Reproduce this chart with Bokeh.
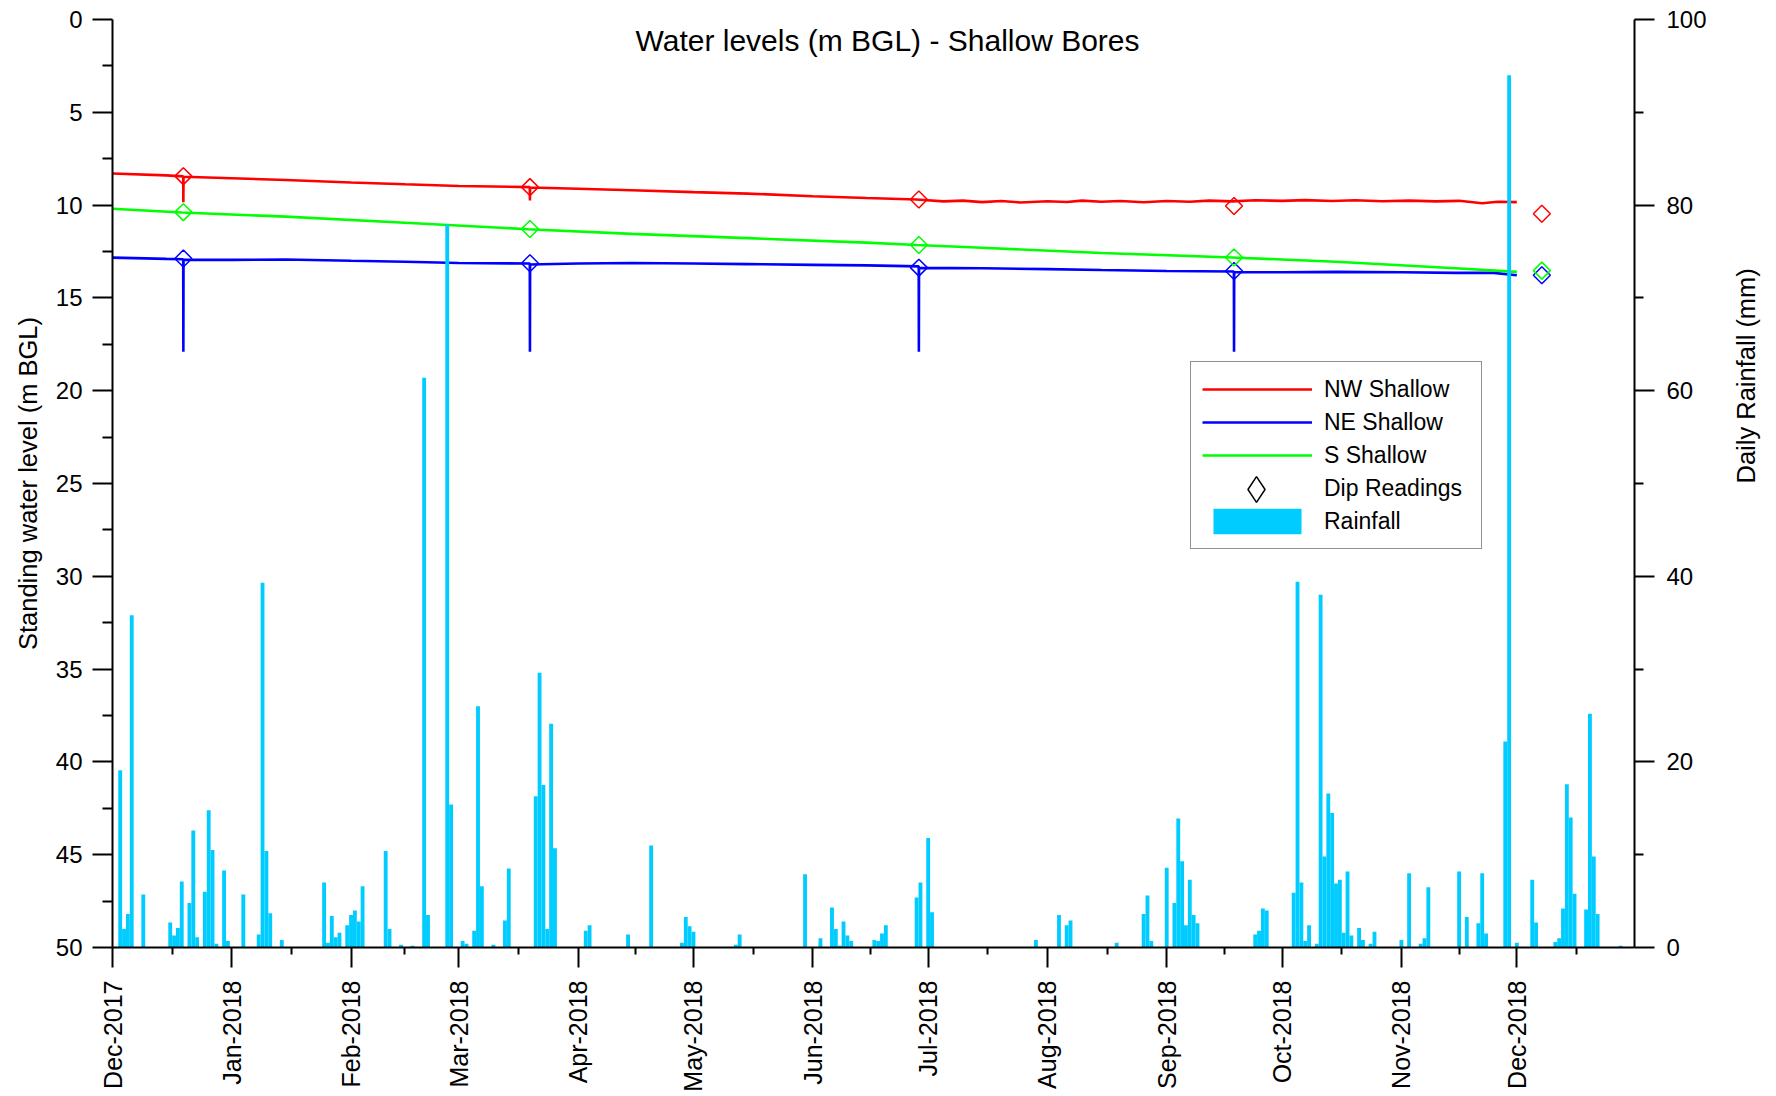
import math
import numpy as np
import pandas as pd
from bokeh.plotting import figure
from bokeh.models import (Range1d, LinearAxis, FixedTicker, DatetimeTickFormatter,
                          Legend, LegendItem, Label)
from bokeh.embed import file_html
from bokeh.resources import INLINE

FONT = "Liberation Sans"

# ---------------- data ----------------
start_date = "2017-12-01"
end_date = "2018-12-31 14:00"

month_ticks = ["2017-12-01", "2018-01-01", "2018-02-01", "2018-03-01", "2018-04-01",
               "2018-05-01", "2018-06-01", "2018-07-01", "2018-08-01", "2018-09-01",
               "2018-10-01", "2018-11-01", "2018-12-01"]
next_month = "2019-01-01"
level_ticks = [0, 5, 10, 15, 20, 25, 30, 35, 40, 45, 50]
rain_ticks = [0, 20, 40, 60, 80, 100]

nw_dates = ["2017-12-01", "2017-12-15", "2017-12-19 09:00", "2017-12-19 10:00", "2017-12-19 11:00",
            "2018-01-01", "2018-01-15", "2018-02-01", "2018-02-15", "2018-03-01",
            "2018-03-19 11:00", "2018-03-19 12:00", "2018-03-19 13:00",
            "2018-04-01", "2018-04-15", "2018-05-01", "2018-05-15", "2018-06-01", "2018-06-15",
            "2018-06-28", "2018-07-05", "2018-07-10", "2018-07-15", "2018-07-20", "2018-07-25",
            "2018-08-01", "2018-08-06", "2018-08-10", "2018-08-15", "2018-08-20", "2018-08-26",
            "2018-09-01", "2018-09-07", "2018-09-12", "2018-09-18", "2018-09-24", "2018-10-01",
            "2018-10-07", "2018-10-14", "2018-10-20", "2018-10-27", "2018-11-03", "2018-11-10",
            "2018-11-16", "2018-11-22", "2018-11-26", "2018-12-01"]
nw_level = [8.30, 8.40, 8.45, 9.85, 8.47,
            8.55, 8.65, 8.78, 8.88, 8.97,
            9.03, 9.75, 9.05,
            9.12, 9.20, 9.30, 9.38, 9.52, 9.62,
            9.70, 9.80, 9.76, 9.84, 9.78, 9.86,
            9.79, 9.83, 9.76, 9.82, 9.78, 9.85,
            9.78, 9.82, 9.76, 9.80, 9.74, 9.77,
            9.73, 9.78, 9.74, 9.79, 9.76, 9.80,
            9.77, 9.90, 9.82, 9.84]

ne_dates = ["2017-12-01", "2017-12-15", "2017-12-19 09:00", "2017-12-19 10:00", "2017-12-19 11:00",
            "2018-01-01", "2018-01-15", "2018-02-01", "2018-02-15", "2018-03-01",
            "2018-03-19 11:00", "2018-03-19 12:00", "2018-03-19 13:00",
            "2018-04-01", "2018-04-15", "2018-05-01", "2018-05-15", "2018-06-01", "2018-06-15",
            "2018-06-28 13:00", "2018-06-28 14:00", "2018-06-28 15:00",
            "2018-07-15", "2018-08-01", "2018-08-15", "2018-09-01",
            "2018-09-18 11:00", "2018-09-18 12:00", "2018-09-18 13:00",
            "2018-10-01", "2018-10-15", "2018-11-01", "2018-11-15", "2018-11-25", "2018-12-01"]
ne_level = [12.83, 12.90, 12.92, 17.90, 12.95,
            12.95, 12.93, 13.00, 13.05, 13.12,
            13.15, 17.90, 13.20,
            13.15, 13.12, 13.15, 13.18, 13.22, 13.25,
            13.30, 17.90, 13.38,
            13.40, 13.45, 13.50, 13.55,
            13.58, 17.90, 13.62,
            13.62, 13.60, 13.62, 13.65, 13.65, 13.78]

s_dates = ["2017-12-01", "2017-12-19", "2018-01-15", "2018-02-15", "2018-03-19", "2018-04-15",
           "2018-05-15", "2018-06-15", "2018-06-28", "2018-07-15", "2018-08-15", "2018-09-18",
           "2018-10-15", "2018-11-15", "2018-12-01"]
s_level = [10.20, 10.40, 10.62, 10.95, 11.30, 11.55,
           11.78, 12.02, 12.15, 12.30, 12.58, 12.82,
           13.05, 13.40, 13.60]

dip_dates = ["2017-12-19 10:00", "2018-03-19 12:00", "2018-06-28 14:00",
             "2018-09-18 12:00", "2018-12-07 12:00"]
dip_nw = [8.44, 9.03, 9.70, 10.05, 10.47]
dip_ne = [12.88, 13.13, 13.37, 13.55, 13.78]
dip_s = [10.38, 11.29, 12.15, 12.82, 13.53]

# rainfall: day offset from start_date, daily rainfall (mm)
rain_day = [2, 3, 4, 5, 8, 15, 16, 17, 18, 20, 21, 22, 24, 25, 26, 27, 29, 30, 34, 38,
            39, 40, 41, 44, 55, 56, 57, 58, 59, 61, 62, 63, 64, 65, 71, 72, 75, 78, 81, 82,
            87, 88, 91, 92, 94, 95, 96, 99, 102, 103, 110, 111, 112, 113, 114, 115, 123, 124,
            134, 140, 148, 149, 150, 151, 162, 163, 180, 184, 187, 188, 189, 190, 191, 192,
            198, 199, 200, 201, 209, 210, 212, 213, 240, 246, 248, 249, 261, 268, 269, 270,
            274, 276, 277, 278, 279, 280, 281, 282, 297, 298, 299, 300, 307, 308, 309, 310,
            311, 313, 314, 315, 316, 317, 318, 319, 320, 321, 322, 324, 325, 327, 328, 335,
            337, 340, 341, 342, 350, 352, 355, 356, 357, 362, 363, 365, 369, 370, 375, 376,
            377, 378, 379, 380, 383, 384, 385, 386, 392]
rain_mm = [19.1, 2.0, 3.6, 35.8, 5.7, 2.7, 1.3, 2.1, 7.1, 4.8, 12.6, 1.1, 6.0, 14.8, 10.5, 0.4, 8.3, 0.7, 5.7, 1.4,
           39.3, 10.4, 3.7, 0.8, 7.0, 0.5, 3.4, 1.1, 1.6, 2.4, 3.5, 4.0, 2.8, 6.6, 10.4, 2.0, 0.3, 0.2, 61.4, 3.5,
           77.9, 15.4, 0.7, 0.4, 1.8, 26.0, 6.6, 0.3, 2.9, 8.5, 16.3, 29.6, 17.5, 2.0, 24.1, 10.7, 1.8, 2.4,
           1.4, 11.0, 0.5, 3.3, 2.3, 1.7, 0.3, 1.4, 7.9, 1.0, 4.3, 2.0, 0.2, 2.8, 1.3, 0.7,
           0.8, 0.7, 1.5, 2.4, 5.4, 7.0, 11.8, 3.8, 0.8, 3.5, 2.4, 2.9, 0.5, 3.6, 5.6, 0.7,
           8.6, 4.8, 13.9, 9.3, 2.4, 7.3, 3.5, 2.6, 1.4, 1.8, 4.2, 4.0, 5.9, 39.4, 7.0, 0.7,
           2.4, 0.4, 38.0, 9.8, 16.6, 14.5, 6.9, 7.3, 1.6, 8.2, 1.3, 2.1, 0.8, 0.4, 1.7, 0.8,
           8.0, 0.4, 1.0, 6.5, 8.2, 3.3, 2.6, 8.0, 1.5, 22.2, 94.0, 0.5, 7.3, 2.7, 0.6, 1.0,
           4.2, 17.6, 14.0, 5.8, 4.1, 25.2, 9.8, 3.6, 0.2]

# ---------------- helpers ----------------
def ms(ts):
    return pd.Timestamp(ts).value // 10**6

def dt(strings):
    return pd.to_datetime(strings, format="mixed")

start = pd.Timestamp(start_date)
rain_x = start + pd.to_timedelta(rain_day, unit="D")
DAY_MS = 86400000

major_ms = [ms(t) for t in month_ticks]
bounds = major_ms + [ms(next_month)]
minor_ms = [(bounds[i] + bounds[i + 1]) / 2 for i in range(len(major_ms))]
minor_level = [(level_ticks[i] + level_ticks[i + 1]) / 2 for i in range(len(level_ticks) - 1)]
minor_rain = [(rain_ticks[i] + rain_ticks[i + 1]) / 2 for i in range(len(rain_ticks) - 1)]

# ---------------- figure ----------------
p = figure(width=1776, height=1096, x_axis_type="datetime", output_backend="svg",
           toolbar_location=None, title=None,
           x_range=Range1d(start=ms(start_date), end=ms(end_date)),
           y_range=Range1d(start=50, end=0),
           min_border_left=112, min_border_right=140, min_border_top=19, min_border_bottom=149)
p.extra_y_ranges = {"rain": Range1d(start=0, end=100)}
p.outline_line_color = None
p.xgrid.grid_line_color = None
p.ygrid.grid_line_color = None
p.background_fill_color = "white"
p.border_fill_color = "white"

def style_axis(ax, tick_font="24px"):
    ax.axis_line_color = "black"
    ax.axis_line_width = 2
    ax.major_tick_line_color = "black"
    ax.major_tick_line_width = 2
    ax.minor_tick_line_color = "black"
    ax.minor_tick_line_width = 2
    ax.major_tick_in = 0
    ax.minor_tick_in = 0
    ax.major_tick_out = 20
    ax.minor_tick_out = 10
    ax.major_label_text_font = FONT
    ax.major_label_text_font_size = tick_font
    ax.major_label_text_color = "black"
    ax.axis_label_text_font = FONT
    ax.axis_label_text_font_size = "25.5px"
    ax.axis_label_text_font_style = "normal"
    ax.axis_label_text_color = "black"

xa = p.xaxis[0]
style_axis(xa, "25px")
xa.ticker = FixedTicker(ticks=major_ms, minor_ticks=minor_ms)
xa.formatter = DatetimeTickFormatter(milliseconds="%b-%Y", seconds="%b-%Y", minsec="%b-%Y",
                                     minutes="%b-%Y", hourmin="%b-%Y", hours="%b-%Y",
                                     days="%b-%Y", months="%b-%Y", years="%b-%Y")
xa.major_label_orientation = math.pi / 2
xa.major_label_standoff = 13
xa.minor_tick_out = 7

ya = p.yaxis[0]
style_axis(ya)
ya.ticker = FixedTicker(ticks=level_ticks, minor_ticks=minor_level)
ya.axis_label = "Standing water level (m BGL)"
ya.major_label_standoff = 10
ya.axis_label_standoff = 11

ra = LinearAxis(y_range_name="rain", axis_label="Daily Rainfall (mm)")
style_axis(ra)
ra.ticker = FixedTicker(ticks=rain_ticks, minor_ticks=minor_rain)
ra.major_label_standoff = 12
ra.axis_label_standoff = 36
ra.minor_tick_out = 9
if "axis_label_orientation" in ra.properties():
    ra.axis_label_orientation = math.pi / 2
p.add_layout(ra, "right")

# ---------------- glyphs ----------------
r_nw = p.line(dt(nw_dates), nw_level, line_color="#FF0000", line_width=2.6)
r_ne = p.line(dt(ne_dates), ne_level, line_color="#0000FF", line_width=2.6)
r_s = p.line(dt(s_dates), s_level, line_color="#00FF00", line_width=2.6)

r_rain = p.vbar(x=rain_x, top=rain_mm, bottom=0, width=DAY_MS, y_range_name="rain",
                fill_color="#00CCFF", line_color=None)

dip_x = dt(dip_dates)
for vals, col in ((dip_nw, "#FF0000"), (dip_ne, "#0000FF"), (dip_s, "#00FF00")):
    p.scatter(dip_x, vals, marker="square", angle=math.pi / 4, size=12,
              fill_color=None, line_color=col, line_width=1.5)

# legend-only renderers (no visible data)
r_dip_blank = p.scatter([np.nan], [np.nan], marker="diamond", size=1,
                        fill_color=None, line_color="black", line_alpha=0.0)
r_dip_key = p.scatter([np.nan], [np.nan], marker="diamond", size=12,
                      fill_color=None, line_color="black", line_width=1.5)

# ---------------- legend ----------------
legend = Legend(items=[
    LegendItem(label="NW Shallow", renderers=[r_nw]),
    LegendItem(label="NE Shallow", renderers=[r_ne]),
    LegendItem(label="S Shallow", renderers=[r_s]),
    LegendItem(label="Dip Readings", renderers=[r_dip_blank]),
    LegendItem(label="Rainfall", renderers=[r_rain]),
], location=(1078, 398))
legend.margin = 0
legend.padding = 11
legend.spacing = 1
legend.glyph_width = 110
legend.glyph_height = 32
legend.label_standoff = 12
legend.label_width = 146
legend.label_height = 32
legend.label_text_font = FONT
legend.label_text_font_size = "23px"
legend.label_text_color = "black"
legend.border_line_color = "#222222"
legend.border_line_width = 1.5
legend.background_fill_color = "white"
legend.background_fill_alpha = 1.0
p.add_layout(legend)

# larger diamond key overlaid on the "Dip Readings" row
key = Legend(items=[LegendItem(label=" ", renderers=[r_dip_key])], location=(1089, 426))
key.margin = 0
key.padding = 0
key.glyph_width = 110
key.glyph_height = 64
key.label_standoff = 0
key.label_width = 0
key.label_height = 64
key.label_text_font_size = "1px"
key.border_line_color = None
key.background_fill_alpha = 0.0
p.add_layout(key)

# ---------------- title ----------------
title = Label(x=775, y=907, x_units="screen", y_units="screen",
              text="Water levels (m BGL) - Shallow Bores",
              text_align="center", text_baseline="alphabetic",
              text_font=FONT, text_font_size="30px", text_color="black")
p.add_layout(title)

open("out.html", "w").write(file_html(p, INLINE))
